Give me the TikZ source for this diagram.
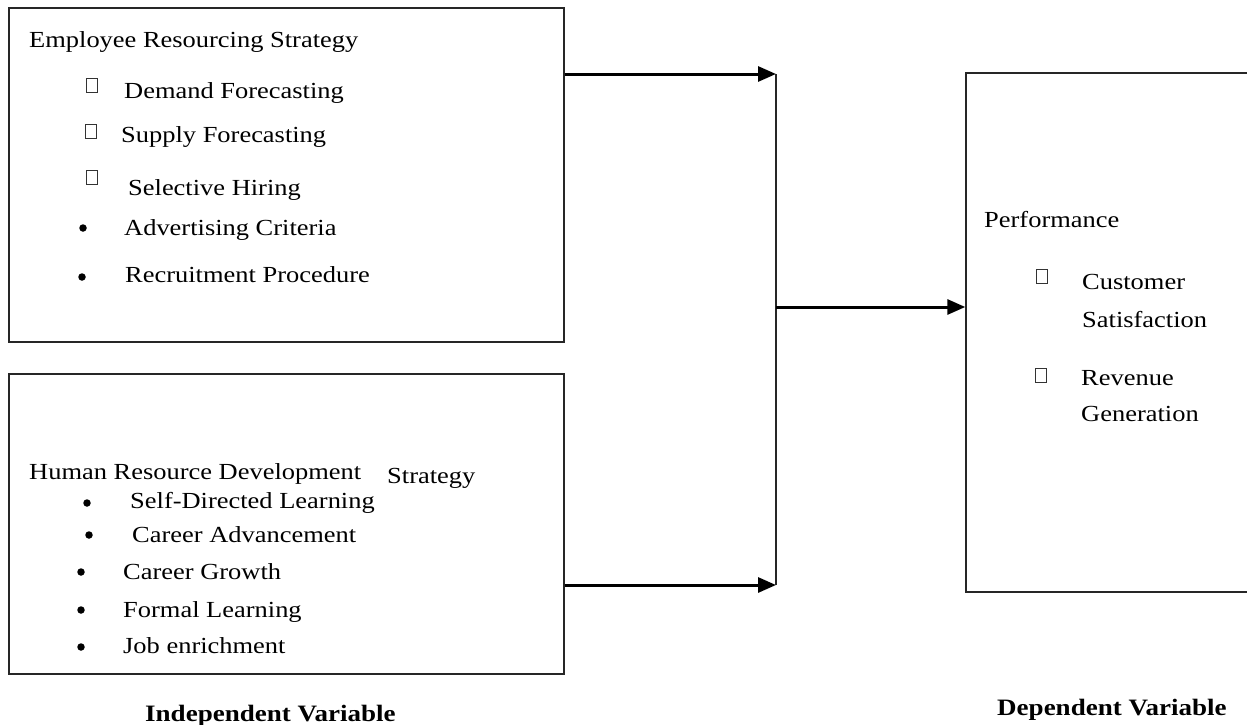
\documentclass[tikz,border=0pt]{standalone}
\usepackage{fontspec}
\setmainfont[FakeStretch=1.15]{Liberation Serif}
\usetikzlibrary{arrows.meta}
\begin{document}
\begin{tikzpicture}[x=1pt,y=-1pt,
  boxnode/.style={draw=black!85,line width=1.4pt,inner sep=0pt},
  txt/.style={anchor=base west,inner sep=0pt,font=\fontsize{23}{27}\selectfont},
  lbl/.style={anchor=base west,inner sep=0pt,font=\fontsize{23.5}{27}\selectfont\bfseries},
  tofu/.style={draw=black!80,line width=0.9pt,minimum width=11pt,minimum height=14pt,inner sep=0pt},
  dotb/.style={circle,fill=black,minimum size=7.5pt,inner sep=0pt},
  arr/.style={line width=3pt,-{Triangle[length=18pt,width=15pt]}},
  conn/.style={draw=black!85,line width=1.4pt}]
\useasboundingbox (0,0) rectangle (1247,725);
% boxes
\node[boxnode,minimum width=555pt,minimum height=334pt] (b1) at (286.5,175) {};
\node[boxnode,minimum width=555pt,minimum height=300pt] (b2) at (286.5,524) {};
\node[boxnode,minimum width=283pt,minimum height=519pt] (b3) at (1107.5,332.5) {};
% box 1
\node[txt] (t10) at (29,48) {Employee Resourcing Strategy};
\node[tofu] (q11) at (92,85) {};
\node[txt] (t11) at (124,99) {Demand Forecasting};
\node[tofu] (q12) at (91,131) {};
\node[txt] (t12) at (121,142) {Supply Forecasting};
\node[tofu] (q13) at (92,177) {};
\node[txt] (t13) at (128,195) {Selective Hiring};
\node[dotb] (d14) at (83,228) {};
\node[txt] (t14) at (124,235) {Advertising Criteria};
\node[dotb] (d15) at (82,277) {};
\node[txt] (t15) at (125,282) {Recruitment Procedure};
% box 2
\node[txt] (t20) at (29,479) {Human Resource Development};
\node[txt] (t20b) at (387,483) {Strategy};
\node[dotb] (d21) at (87,503) {};
\node[txt] (t21) at (130,508) {Self-Directed Learning};
\node[dotb] (d22) at (89,535) {};
\node[txt] (t22) at (132,542) {Career Advancement};
\node[dotb] (d23) at (81,572) {};
\node[txt] (t23) at (123,579) {Career Growth};
\node[dotb] (d24) at (81,610) {};
\node[txt] (t24) at (123,617) {Formal Learning};
\node[dotb] (d25) at (81,647) {};
\node[txt] (t25) at (123,653) {Job enrichment};
% box 3
\node[txt] (t30) at (984,227) {Performance};
\node[tofu] (q31) at (1042,276) {};
\node[txt] (t31) at (1082,289) {Customer};
\node[txt] (t31b) at (1082,327) {Satisfaction};
\node[tofu] (q32) at (1041,375) {};
\node[txt] (t32) at (1081,385) {Revenue};
\node[txt] (t32b) at (1081,421) {Generation};
% labels
\node[lbl] (l1) at (145,721) {Independent Variable};
\node[lbl] (l2) at (997,715) {Dependent Variable};
% connectors
\coordinate (c1) at (776,74);
\coordinate (c2) at (776,585);
\coordinate (j) at (776,307);
\draw[arr] (b1.east |- c1) -- (c1);
\draw[arr] (b2.east |- c2) -- (c2);
\draw[conn] (c1) -- (c2);
\draw[arr] (j) -- (b3.west |- j);
\end{tikzpicture}
\end{document}
